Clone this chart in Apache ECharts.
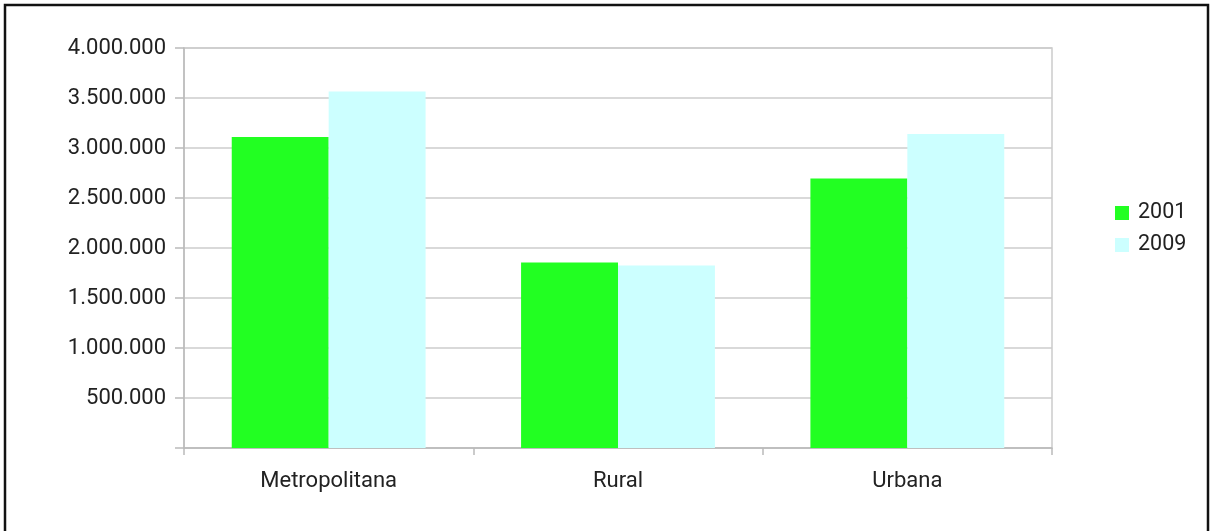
<!DOCTYPE html>
<html>
<head>
<meta charset="utf-8">
<script src="https://cdn.jsdelivr.net/npm/echarts@6/dist/echarts.min.js"></script>
<style>
  html, body { margin: 0; padding: 0; background: #fff; }
  #chart { width: 1210px; height: 531px; }
</style>
</head>
<body>
<div id="chart"></div>
<script>
// Population by area type, 2001 vs 2009
const categories = ['Metropolitana', 'Rural', 'Urbana'];
const seriesNames = ['2001', '2009'];
const values2001 = [3110000, 1855000, 2695000];
const values2009 = [3565000, 1825000, 3140000];

function thousands(v) {
  return String(v).replace(/\B(?=(\d{3})+(?!\d))/g, '.');
}

const chart = echarts.init(document.getElementById('chart'));
const font = 'Roboto, "Liberation Sans", sans-serif';

chart.setOption({
  animation: false,
  graphic: [{
    type: 'rect',
    shape: { x: 5, y: 5, width: 1203, height: 560 },
    style: { fill: 'none', stroke: '#111', lineWidth: 2.5 },
    silent: true,
    z: 100
  }],
  grid: {
    left: 184, right: 158, top: 48, bottom: 83,
    show: true, borderColor: '#cccccc', borderWidth: 1.5,
    containLabel: false
  },
  legend: {
    orient: 'vertical',
    left: 1110, top: 197,
    itemWidth: 14, itemHeight: 14,
    itemGap: 10,
    icon: 'rect',
    data: seriesNames,
    textStyle: { fontFamily: font, fontSize: 21.5, color: '#222', padding: [0, 0, 0, 4] }
  },
  xAxis: {
    type: 'category',
    data: categories,
    axisLine: { lineStyle: { color: '#bbbbbb', width: 1.5 } },
    axisTick: { show: true, length: 7, alignWithLabel: false, lineStyle: { color: '#bbbbbb', width: 1.5 } },
    axisLabel: { fontFamily: font, fontSize: 22, color: '#222', margin: 22 }
  },
  yAxis: {
    type: 'value',
    min: 0, max: 4000000, interval: 500000,
    axisLine: { show: true, lineStyle: { color: '#bbbbbb', width: 1.5 } },
    axisTick: { show: true, length: 9, lineStyle: { color: '#bbbbbb', width: 1.5 } },
    splitLine: { lineStyle: { color: '#cccccc', width: 1.5 } },
    axisLabel: {
      fontFamily: font, fontSize: 22, color: '#222', margin: 18,
      formatter: v => v === 0 ? '' : thousands(v)
    }
  },
  series: [
    {
      name: seriesNames[0], type: 'bar', data: values2001,
      barGap: '0%', barCategoryGap: '33%',
      itemStyle: { color: '#22ff22' }
    },
    {
      name: seriesNames[1], type: 'bar', data: values2009,
      barGap: '0%', barCategoryGap: '33%',
      itemStyle: { color: '#ccffff' }
    }
  ]
});
</script>
</body>
</html>
